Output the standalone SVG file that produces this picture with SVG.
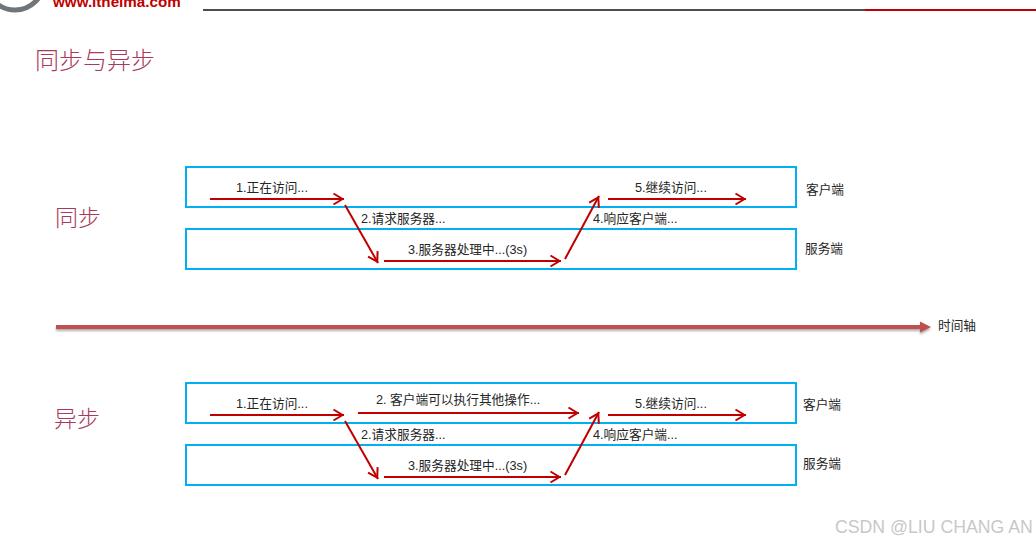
<svg xmlns="http://www.w3.org/2000/svg" width="1036" height="545" viewBox="0 0 1036 545">
<style>
text{font-family:"Liberation Sans","Noto Sans CJK SC",sans-serif;fill:#262626;font-size:12.7px}
.h{font-family:"Noto Sans CJK SC",sans-serif;fill:#a93a5c;font-weight:300}
.b{fill:#fff;stroke:#00b0f0;stroke-width:2}
.a{fill:none;stroke:#c00000;stroke-width:2;marker-end:url(#m)}
</style>
<defs>
<marker id="m" markerUnits="userSpaceOnUse" markerWidth="16" markerHeight="16" refX="13.5" refY="6" orient="auto" overflow="visible"><path d="M3 0.5L12 6L3 11.5" fill="none" stroke="#c00000" stroke-width="2"/></marker>
<filter id="s" filterUnits="userSpaceOnUse" x="40" y="305" width="910" height="45"><feDropShadow dx="0" dy="2" stdDeviation="1" flood-color="#777" flood-opacity=".6"/></filter>
</defs>
<g id="header">
<circle cx="15" cy="-19" r="29" fill="none" stroke="#70757a" stroke-width="5"/>
<text x="53" y="6.5" style="font-size:15.2px;font-weight:bold;fill:#c00000">www.itheima.com</text>
<rect x="203" y="9" width="662" height="2" fill="#4d4d4d"/>
<rect x="865" y="9" width="171" height="2" fill="#c00000"/>
</g>
<text id="title" class="h" x="35" y="69" style="font-size:24px">同步与异步</text>
<g id="sync-label"><text class="h" x="55" y="226" style="font-size:23px">同步</text></g>
<g id="async-label"><text class="h" x="54" y="427" style="font-size:23px">异步</text></g>
<g id="sync-client"><rect class="b" x="186" y="167" width="610" height="40"/><text x="806" y="194">客户端</text></g>
<g id="sync-server"><rect class="b" x="186" y="229" width="610" height="40"/><text x="805" y="253">服务端</text></g>
<g id="async-client"><rect class="b" x="186" y="383" width="610" height="40"/><text x="803" y="409">客户端</text></g>
<g id="async-server"><rect class="b" x="186" y="445" width="610" height="40"/><text x="803" y="468">服务端</text></g>
<g id="connectors">
<line class="a" x1="210" y1="199" x2="344" y2="199"/>
<line class="a" x1="345" y1="205" x2="378" y2="263"/>
<line class="a" x1="384" y1="261" x2="561" y2="261"/>
<line class="a" x1="565" y1="259" x2="599" y2="196"/>
<line class="a" x1="608" y1="199" x2="746" y2="199"/>
<path id="timeline" d="M56 325H920V321.5L931 327L920 332.5V329H56Z" fill="#c0504d" filter="url(#s)"/>
<line class="a" x1="210" y1="415" x2="344" y2="415"/>
<line class="a" x1="358" y1="413" x2="579" y2="413"/>
<line class="a" x1="345" y1="421" x2="378" y2="479"/>
<line class="a" x1="384" y1="477" x2="561" y2="477"/>
<line class="a" x1="565" y1="475" x2="599" y2="412"/>
<line class="a" x1="608" y1="415" x2="746" y2="415"/>
</g>
<g id="labels">
<text x="236" y="192">1.正在访问...</text>
<text x="361" y="223">2.请求服务器...</text>
<text x="408" y="254">3.服务器处理中...(3s)</text>
<text x="593" y="223">4.响应客户端...</text>
<text x="635" y="192">5.继续访问...</text>
<text x="938" y="330">时间轴</text>
<text x="236" y="408">1.正在访问...</text>
<text x="376" y="404">2. 客户端可以执行其他操作...</text>
<text x="361" y="439">2.请求服务器...</text>
<text x="408" y="470">3.服务器处理中...(3s)</text>
<text x="593" y="439">4.响应客户端...</text>
<text x="635" y="408">5.继续访问...</text>
</g>
<text id="watermark" x="835" y="533" style="font-size:17.7px;fill:#c8c8c8">CSDN @LIU CHANG AN</text>
</svg>
